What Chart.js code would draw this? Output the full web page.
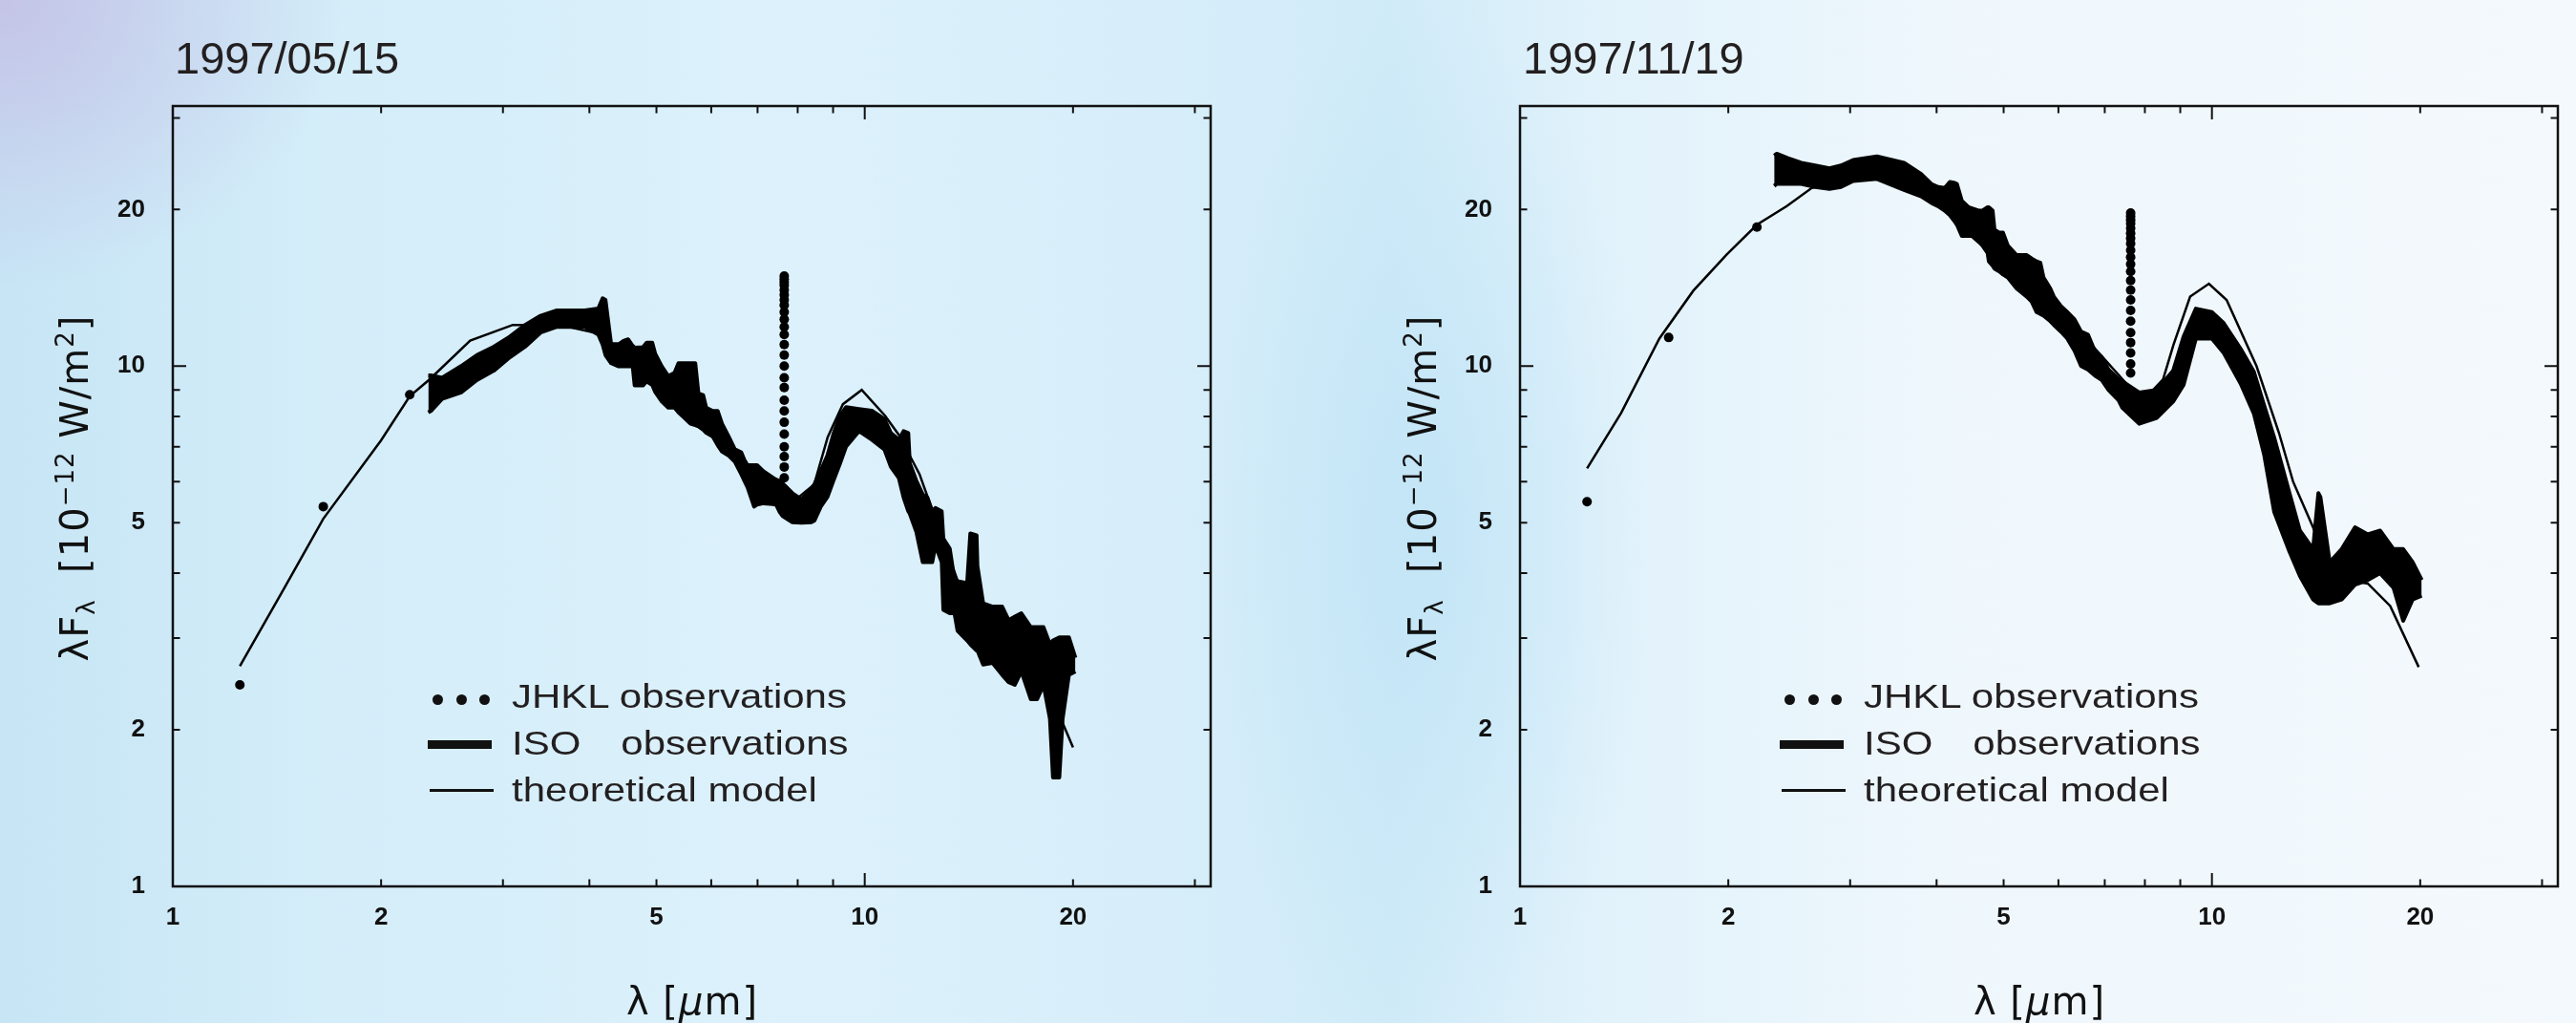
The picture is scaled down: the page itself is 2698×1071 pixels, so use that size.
<!DOCTYPE html>
<html>
<head>
<meta charset="utf-8">
<script src="https://cdn.jsdelivr.net/npm/chart.js@4.4.0/dist/chart.umd.min.js"></script>
<style>
html, body { margin: 0; padding: 0; }
body {
  width: 2698px; height: 1071px; position: relative; overflow: hidden;
  font-family: 'Liberation Sans', Arial, sans-serif; color: #231f20;
  background:
    radial-gradient(ellipse 360px 300px at 0px 0px, rgba(196,192,230,0.9), rgba(196,192,230,0) 100%),
    radial-gradient(ellipse 240px 560px at 1490px 560px, rgba(190,227,246,0.75), rgba(190,227,246,0) 100%),
    linear-gradient(90deg, #c7e5f5 0%, #d3edf9 12%, #dcf1fb 30%, #d7eefa 45%, #d0ebf8 54%, #e1f2fb 62%, #eef7fc 75%, #f4f9fd 100%);
}
canvas { position: absolute; top: 0; }
.title { position: absolute; top: 37px; font-size: 47px; line-height: 47px; white-space: nowrap; }
.ytitle {
  position: absolute; width: 440px; height: 48px; line-height: 48px; top: 487px;
  font-family: 'DejaVu Sans', sans-serif; font-size: 40px; letter-spacing: 1px;
  text-align: center; white-space: nowrap; color: #111; transform: rotate(-90deg);
}
.ytitle sub { font-size: 26px; vertical-align: -7px; line-height: 0; }
.ytitle sup { font-size: 26px; vertical-align: 15px; line-height: 0; }
.xtitle {
  position: absolute; width: 300px; height: 48px; line-height: 48px; top: 1024px;
  font-family: 'DejaVu Sans', sans-serif; font-size: 40px; letter-spacing: 1px;
  text-align: center; white-space: nowrap; color: #111;
}
.legtext {
  position: absolute; top: 704px; font-size: 35px; line-height: 49px;
  white-space: nowrap; transform: scaleX(1.2); transform-origin: left top;
}
.dot { position: absolute; width: 11px; height: 11px; border-radius: 50%; background: #111; top: 727px; }
.bar { position: absolute; width: 67px; height: 9px; background: #111; top: 775px; }
.thin { position: absolute; width: 67px; height: 2.5px; background: #111; top: 826px; }
</style>
</head>
<body>
<canvas id="may" width="1349" height="1071" style="left:0px"></canvas>
<canvas id="nov" width="1349" height="1071" style="left:1349px"></canvas>

<div class="title" style="left:183px">1997/05/15</div>
<div class="title" style="left:1595px">1997/11/19</div>

<div class="ytitle" style="left:-142px">λF<sub>λ</sub>&nbsp; [10<sup>−12</sup> W/m<sup>2</sup>]</div>
<div class="ytitle" style="left:1270px">λF<sub>λ</sub>&nbsp; [10<sup>−12</sup> W/m<sup>2</sup>]</div>

<div class="xtitle" style="left:575px">λ [<i>μ</i>m]</div>
<div class="xtitle" style="left:1986px">λ [<i>μ</i>m]</div>

<div class="dot" style="left:453px"></div><div class="dot" style="left:478px"></div><div class="dot" style="left:502px"></div>
<div class="bar" style="left:448px"></div>
<div class="thin" style="left:450px"></div>
<div class="legtext" style="left:536px">JHKL observations<br>ISO<span style="display:inline-block;width:35px"></span>observations<br>theoretical model</div>

<div class="dot" style="left:1869px"></div><div class="dot" style="left:1894px"></div><div class="dot" style="left:1918px"></div>
<div class="bar" style="left:1864px"></div>
<div class="thin" style="left:1866px"></div>
<div class="legtext" style="left:1952px">JHKL observations<br>ISO<span style="display:inline-block;width:35px"></span>observations<br>theoretical model</div>

<script>
// axis ticks (both panels, both axes)
var tickValues = [1, 2, 3, 4, 5, 6, 7, 8, 9, 10, 20, 30]
var tickLabels = [1, 2, 5, 10, 20]
var axisMin = 1
var axisMax = 31.62

// 1997/05/15
var jhklMayX = [1.25, 1.65, 2.2]
var jhklMayY = [2.44, 5.37, 8.81]
var spikeMayX = 7.65
var spikeMayY = [14.9, 14.7, 14.5, 14.3, 14.0, 13.7, 13.4, 13.1, 12.7, 12.3, 11.9, 11.5, 11.0, 10.5, 10.0, 9.5, 9.1, 8.6, 8.2, 7.8, 7.4, 7.0, 6.7, 6.4, 6.1, 5.8]
var modelMayX = [1.25, 1.45, 1.65, 2.0, 2.2, 2.35, 2.69, 3.1, 3.63, 4.07, 4.5, 5.0, 5.5, 6.0, 6.5, 7.0, 7.5, 8.03, 8.45, 8.84, 9.3, 9.9, 10.7, 11.2, 12.0, 13.0, 14.0, 14.8, 15.9, 17.4, 18.5, 19.3, 20.0]
var modelMayY = [2.65, 3.75, 5.09, 7.2, 8.75, 9.43, 11.2, 12.0, 12.0, 11.6, 10.6, 9.4, 8.3, 7.4, 6.7, 6.1, 5.75, 5.6, 5.92, 7.3, 8.45, 9.0, 8.03, 7.38, 6.2, 4.6, 3.5, 2.93, 2.73, 2.59, 2.35, 2.07, 1.85]
var isoMayX  = [2.34, 2.36, 2.45, 2.61, 2.75, 2.91, 3.07, 3.23, 3.4, 3.59, 3.94, 4.12, 4.18, 4.22, 4.30, 4.41, 4.48, 4.55, 4.62, 4.65, 4.78, 4.84, 4.93, 4.98, 5.09, 5.20, 5.31, 5.38, 5.48, 5.60, 5.69, 5.75, 5.84, 5.90, 6.03, 6.13, 6.22, 6.36, 6.49, 6.63, 6.70, 6.77, 6.92, 6.99, 7.14, 7.37, 7.45, 7.53, 7.61, 7.86, 8.1, 8.37, 8.46, 8.64, 8.83, 9.01, 9.21, 9.40, 9.81, 10.24, 10.68, 10.91, 11.20, 11.38, 11.56, 11.62, 11.87, 12.13, 12.32, 12.52, 12.65, 12.92, 12.99, 13.27, 13.48, 13.62, 14.06, 14.21, 14.51, 14.55, 14.83, 15.30, 15.80, 16.14, 16.48, 16.84, 17.38, 17.75, 18.13, 18.52, 18.71, 19.11, 19.32, 19.73, 20.16]
var isoMayHi = [9.6, 9.6, 9.5, 10.0, 10.5, 10.9, 11.4, 12.0, 12.5, 12.8, 12.8, 12.9, 13.5, 13.4, 11.02, 11.02, 11.18, 11.26, 10.94, 10.85, 10.87, 11.10, 11.10, 10.56, 9.99, 9.57, 9.71, 10.13, 10.13, 10.13, 10.13, 8.86, 8.80, 8.32, 8.20, 8.20, 7.75, 7.32, 6.92, 6.83, 6.6, 6.45, 6.45, 6.45, 6.28, 6.10, 6.05, 6.02, 5.95, 5.7, 5.55, 5.8, 5.93, 6.3, 6.73, 7.4, 8.03, 8.34, 8.27, 8.21, 7.91, 7.44, 7.22, 7.50, 7.44, 6.50, 6.03, 5.67, 5.59, 5.26, 5.34, 5.26, 4.66, 4.46, 3.89, 3.86, 3.83, 4.77, 4.73, 4.13, 3.50, 3.45, 3.45, 3.25, 3.30, 3.35, 3.15, 3.15, 3.15, 2.92, 2.97, 3.01, 3.01, 3.01, 2.75]
var isoMayLo = [8.15, 8.2, 8.65, 8.9, 9.4, 9.8, 10.4, 10.9, 11.6, 11.9, 11.9, 11.5, 11.0, 10.5, 10.13, 9.99, 9.99, 9.99, 9.99, 9.18, 9.18, 9.35, 9.2, 8.92, 8.55, 8.32, 8.32, 8.15, 7.97, 7.75, 7.7, 7.66, 7.55, 7.45, 7.32, 7.05, 6.85, 6.73, 6.55, 6.2, 6.02, 5.85, 5.37, 5.42, 5.45, 5.43, 5.41, 5.25, 5.15, 5.01, 5.0, 5.01, 5.05, 5.37, 5.6, 6.02, 6.5, 7.01, 7.50, 7.22, 6.91, 6.40, 6.1, 5.59, 5.26, 5.2, 4.81, 4.20, 4.20, 4.20, 4.52, 4.20, 3.40, 3.35, 3.35, 3.10, 2.97, 2.92, 2.84, 2.84, 2.67, 2.69, 2.55, 2.47, 2.44, 2.59, 2.29, 2.29, 2.44, 2.10, 1.62, 1.62, 2.10, 2.55, 2.59]

// 1997/11/19
var jhklNovX = [1.25, 1.64, 2.2]
var jhklNovY = [5.49, 11.35, 18.5]
var spikeNovX = 7.63
var spikeNovY = [19.7, 19.4, 19.1, 18.8, 18.4, 18.0, 17.6, 17.2, 16.7, 16.2, 15.7, 15.2, 14.6, 14.0, 13.4, 12.8, 12.2, 11.6, 11.1, 10.6, 10.1, 9.7]
var modelNovX = [1.25, 1.40, 1.59, 1.78, 1.99, 2.2, 2.43, 2.64, 3.03, 3.35, 3.9, 4.5, 5.0, 5.5, 6.0, 6.5, 7.0, 7.5, 7.93, 8.5, 8.8, 9.3, 9.9, 10.5, 11.6, 12.5, 13.1, 14.0, 14.6, 15.4, 16.8, 18.1, 19.9]
var modelNovY = [6.36, 8.13, 11.3, 13.96, 16.4, 18.7, 20.3, 22.0, 23.1, 23.3, 22.4, 19.8, 17.0, 14.8, 13.0, 11.5, 10.3, 9.3, 8.55, 9.43, 11.0, 13.6, 14.4, 13.4, 10.0, 7.44, 6.0, 4.9, 4.22, 3.9, 3.82, 3.46, 2.64]
var isoNovX  = [2.33, 2.35, 2.44, 2.55, 2.67, 2.80, 2.91, 3.03, 3.28, 3.59, 3.80, 3.93, 4.02, 4.11, 4.18, 4.25, 4.28, 4.35, 4.45, 4.50, 4.61, 4.66, 4.74, 4.76, 4.82, 4.85, 4.93, 4.99, 5.07, 5.22, 5.40, 5.49, 5.58, 5.65, 5.71, 5.84, 5.91, 6.05, 6.18, 6.33, 6.47, 6.62, 6.77, 6.93, 7.09, 7.33, 7.42, 7.85, 8.32, 8.79, 9.1, 9.48, 10.0, 10.4, 11.0, 11.5, 11.9, 12.3, 12.9, 13.4, 14.0, 14.25, 14.35, 14.8, 15.4, 16.1, 16.8, 17.5, 18.3, 18.9, 19.5, 20.1]
var isoNovHi = [25.4, 25.6, 25.1, 24.6, 24.3, 24.0, 24.3, 24.9, 25.3, 24.6, 23.4, 22.4, 22.1, 22.0, 22.6, 22.5, 22.4, 20.8, 20.2, 20.1, 19.9, 19.9, 20.2, 20.2, 19.9, 18.3, 18.05, 18.05, 17.05, 16.35, 16.35, 16.1, 15.9, 15.8, 14.8, 14.1, 13.6, 13.05, 12.7, 12.3, 11.65, 11.5, 10.7, 10.4, 9.85, 9.44, 9.35, 8.9, 9.0, 9.8, 11.4, 12.9, 12.7, 12.1, 10.8, 9.75, 8.4, 7.3, 5.8, 4.83, 4.45, 5.7, 5.6, 4.2, 4.45, 4.9, 4.75, 4.83, 4.45, 4.45, 4.2, 3.88]
var isoNovLo = [22.2, 22.4, 22.4, 22.4, 22.1, 21.9, 22.1, 22.7, 22.9, 21.8, 21.2, 20.6, 20.3, 19.9, 19.5, 18.95, 18.7, 17.8, 17.8, 17.8, 17.3, 17.05, 16.5, 15.9, 15.6, 15.4, 15.2, 15.0, 14.8, 14.1, 13.6, 13.3, 12.7, 12.6, 12.5, 12.2, 12.0, 11.65, 11.3, 10.7, 10.0, 9.85, 9.6, 9.4, 9.0, 8.6, 8.32, 7.75, 7.95, 8.55, 9.2, 11.3, 11.3, 10.6, 9.26, 8.1, 6.75, 5.25, 4.45, 3.95, 3.56, 3.5, 3.5, 3.5, 3.56, 3.8, 3.88, 4.0, 3.75, 3.24, 3.56, 3.62]

function pairs(xs, ys) {
	return ys.map(function(y, i) { return {x: (Array.isArray(xs) ? xs[i] : xs), y: y} })
}

// frame round the plot plus inward ticks on all four sides
var frameTicks = {
	id: 'frameTicks',
	afterDraw: function(chart) {
		var ctx = chart.ctx
		var a = chart.chartArea
		var xs = chart.scales.x
		var ys = chart.scales.y
		ctx.save()
		ctx.strokeStyle = '#111'
		ctx.lineWidth = 2.5
		ctx.strokeRect(a.left, a.top, a.right - a.left, a.bottom - a.top)
		ctx.lineWidth = 2
		ctx.beginPath()
		tickValues.forEach(function(v) {
			var len = (v == 1 || v == 10) ? 14 : 7.5
			var px = xs.getPixelForValue(v)
			if (px > a.left + 2 && px < a.right - 2) {
				ctx.moveTo(px, a.bottom); ctx.lineTo(px, a.bottom - len)
				ctx.moveTo(px, a.top); ctx.lineTo(px, a.top + len)
			}
			var py = ys.getPixelForValue(v)
			if (py > a.top + 2 && py < a.bottom - 2) {
				ctx.moveTo(a.left, py); ctx.lineTo(a.left + len, py)
				ctx.moveTo(a.right, py); ctx.lineTo(a.right - len, py)
			}
		})
		ctx.stroke()
		ctx.restore()
	}
}

function logAxis(fixSize, pad, isX) {
	return {
		type: 'logarithmic',
		min: axisMin,
		max: axisMax,
		grid: { display: false },
		border: { display: false },
		ticks: {
			color: '#111',
			font: { family: 'Liberation Sans', size: 26, weight: 'bold' },
			padding: pad,
			autoSkip: false,
			maxRotation: 0,
			callback: function(v) { return tickLabels.indexOf(v) >= 0 ? String(v) : '' }
		},
		afterBuildTicks: function(s) {
			s.ticks = tickValues.map(function(v) { return {value: v} })
		},
		afterFit: function(s) {
			if (isX) s.height = fixSize
			else s.width = fixSize
		}
	}
}

function buildSED(canvasId, plotLeft, plotRight, jX, jY, sX, sY, mX, mY, iX, iHi, iLo) {
	var ctx = document.getElementById(canvasId).getContext('2d')
	return new Chart(ctx, {
		type: 'line',
		data: {
			datasets: [{
				label: 'ISO observations',
				data: pairs(iX, iHi),
				borderColor: '#000', borderWidth: 4, pointRadius: 0, tension: 0,
				borderJoinStyle: 'round', fill: false
			}, {
				label: 'ISO observations (lower edge)',
				data: pairs(iX, iLo),
				borderColor: '#000', borderWidth: 4, pointRadius: 0, tension: 0,
				borderJoinStyle: 'round', fill: '-1', backgroundColor: '#000'
			}, {
				label: 'theoretical model',
				data: pairs(mX, mY),
				borderColor: '#000', borderWidth: 2.5, pointRadius: 0, tension: 0, fill: false
			}, {
				label: 'JHKL observations',
				data: pairs(jX, jY).concat(pairs(sX, sY)),
				showLine: false, pointRadius: 5, pointBorderWidth: 0,
				pointBackgroundColor: '#000', borderColor: '#000'
			}]
		},
		options: {
			responsive: false,
			animation: false,
			devicePixelRatio: 1,
			events: [],
			layout: { padding: { left: 0, top: 111, right: 1349 - plotRight, bottom: 0 } },
			plugins: { legend: { display: false }, tooltip: { enabled: false } },
			scales: {
				x: logAxis(143, 9, true),
				y: logAxis(plotLeft, 21, false)
			}
		},
		plugins: [frameTicks]
	})
}

const mayChart = buildSED('may', 181, 1268, jhklMayX, jhklMayY, spikeMayX, spikeMayY, modelMayX, modelMayY, isoMayX, isoMayHi, isoMayLo)
const novChart = buildSED('nov', 243, 1330, jhklNovX, jhklNovY, spikeNovX, spikeNovY, modelNovX, modelNovY, isoNovX, isoNovHi, isoNovLo)
</script>
</body>
</html>
